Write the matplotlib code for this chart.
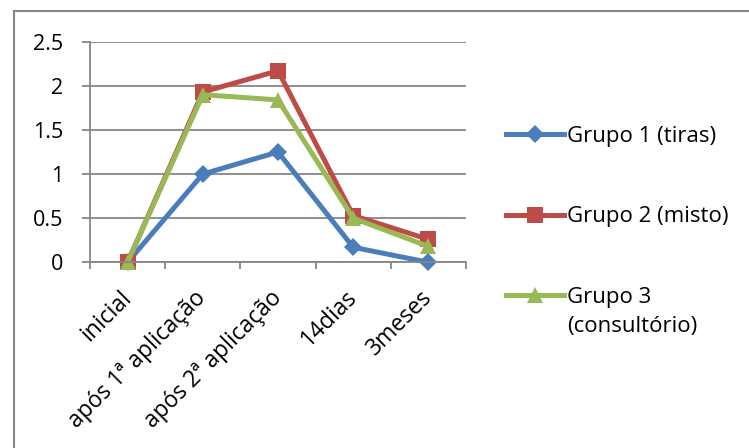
import matplotlib
matplotlib.use("Agg")
import matplotlib.pyplot as plt
from matplotlib.lines import Line2D

categories = ["inicial", "após 1ª aplicação", "após 2ª aplicação", "14dias", "3meses"]
grupo1 = [0, 1.0, 1.25, 0.17, 0.0]
grupo2 = [0, 1.93, 2.17, 0.53, 0.26]
grupo3 = [0, 1.90, 1.84, 0.50, 0.18]
labels = ["Grupo 1 (tiras)", "Grupo 2 (misto)", "Grupo 3"]
label3_extra = "(consultório)"
yticks = [0, 0.5, 1, 1.5, 2, 2.5]
ytick_labels = ["0", "0.5", "1", "1.5", "2", "2.5"]

plt.rcParams['font.family'] = ['Open Sans', 'DejaVu Sans']
FS = 15.5
FSX = 16.5
FSL = 16

W, H = 749, 448
fig = plt.figure(figsize=(W/100, H/100), dpi=100)
ax = fig.add_axes([90/W, 1 - 262.3/H, (466-90)/W, (262.3-41.7)/H])

x = list(range(len(categories)))
colors = ["#4A7EBB", "#BE4B48", "#98B954"]
markers = ["D", "s", "^"]
msizes = [9, 11, 12]
series = [grupo1, grupo2, grupo3]
handles = []
for s, c, m, ms, lab in zip(series, colors, markers, msizes, labels):
    h, = ax.plot(x, s, color=c, lw=3.6, marker=m, markersize=ms, markeredgewidth=0,
                 solid_joinstyle='round', label=lab, clip_on=False)
    handles.append(h)

ax.set_xlim(-0.5, len(categories) - 0.5)
ax.set_ylim(0, 2.5)
ax.set_yticks(yticks)
ax.set_yticklabels(ytick_labels, fontsize=FS)
ax.yaxis.grid(True, color="#868686", lw=1.3)
ax.set_axisbelow(True)
for sp in ["top", "right"]:
    ax.spines[sp].set_visible(False)
for sp in ["left", "bottom"]:
    ax.spines[sp].set_color("#868686")
    ax.spines[sp].set_linewidth(1.3)
ax.tick_params(axis='y', length=6, width=1.3, color="#868686", pad=13)
ax.set_xticks([i - 0.5 for i in range(len(categories) + 1)], minor=False)
ax.set_xticklabels([])
ax.tick_params(axis='x', length=5, width=1.3, color="#868686")
for i, cat in enumerate(categories):
    ax.annotate(cat, xy=(i, 0), xycoords=('data', 'axes fraction'),
                xytext=(0, -23), textcoords='offset points',
                rotation=45, ha='right', va='center', rotation_mode='anchor', fontsize=FSX)

leg = fig.legend(handles=handles, labels=labels, loc='upper left',
                 bbox_to_anchor=(497/W, 1 - 117/H), frameon=False, fontsize=FSL,
                 handlelength=2.6, handletextpad=0.15, labelspacing=2.68, borderaxespad=0)
fig.canvas.draw()
t3 = leg.get_texts()[2]
bb = t3.get_window_extent()
fig.text(bb.x0 / W, (bb.y0 - 8) / H, label3_extra, fontsize=FSL, ha='left', va='top')

# outer frame (left and top visible)
fig.add_artist(Line2D([14/W, 14/W], [0, 1 - 11/H], color="#868686", lw=1.5))
fig.add_artist(Line2D([14/W, 1], [1 - 11/H, 1 - 11/H], color="#868686", lw=1.5))

fig.savefig("out.png", dpi=100)
